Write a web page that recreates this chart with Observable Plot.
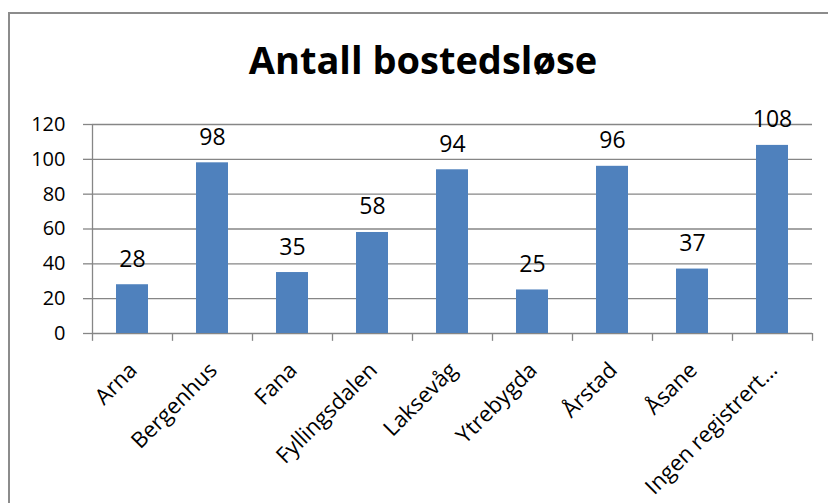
<!DOCTYPE html>
<html>
<head>
<meta charset="utf-8">
<script src="https://cdn.jsdelivr.net/npm/d3@7"></script>
<script src="https://cdn.jsdelivr.net/npm/@observablehq/plot@0.6"></script>
<style>
  html, body { margin: 0; padding: 0; background: #fff; overflow: hidden; }
  #wrap { position: relative; width: 828px; height: 503px; overflow: hidden; font-family: "Open Sans", sans-serif; }
  #border { position: absolute; left: 8px; top: 12px; width: 900px; height: 700px; border: 2px solid #8c8c8c; box-sizing: border-box; }
  #chart { position: absolute; left: 0; top: 0; }
  #title { position: absolute; left: 223px; top: 40px; width: 400px; text-align: center; font: bold 38px/38px "Open Sans", sans-serif; color: #000; white-space: nowrap; }
</style>
</head>
<body>
<div id="wrap">
  <div id="border"></div>
  <div id="chart"></div>
  <div id="title">Antall bostedsløse</div>
</div>
<script>
const categories = ["Arna", "Bergenhus", "Fana", "Fyllingsdalen", "Laksevåg", "Ytrebygda", "Årstad", "Åsane", "Ingen registrert…"];
const values = [28, 98, 35, 58, 94, 25, 96, 37, 108];
const yTicks = [0, 20, 40, 60, 80, 100, 120];

const data = categories.map((c, i) => ({category: c, value: values[i]}));
const gridColor = "#868686";

const chart = Plot.plot({
  width: 828,
  height: 503,
  marginLeft: 92,
  marginRight: 16,
  marginTop: 124,
  marginBottom: 170,
  style: {fontFamily: "Open Sans, sans-serif", color: "#000", background: "transparent"},
  x: {domain: categories, paddingInner: 0.6, paddingOuter: 0.3, label: null, axis: null},
  y: {domain: [0, 120], label: null, axis: null},
  marks: [
    Plot.ruleY(yTicks, {stroke: gridColor, strokeWidth: 1.3}),
    Plot.ruleY(yTicks, {y: d => d, stroke: gridColor, strokeWidth: 1.3, dx: -9, insetRight: 711}),
    Plot.text(yTicks, {y: d => d, text: d => String(d), frameAnchor: "left", textAnchor: "end", dx: -27, fontSize: 20, fill: "#000"}),
    Plot.ruleX([categories[0]], {x: d => d, dx: -40, y1: 0, y2: 120, stroke: gridColor, strokeWidth: 1.3}),
    Plot.ruleX(categories, {x: d => d, dx: -40, y1: -4.5, y2: 0, stroke: gridColor, strokeWidth: 1.3}),
    Plot.ruleX([categories[categories.length - 1]], {x: d => d, dx: 40, y1: -4.5, y2: 0, stroke: gridColor, strokeWidth: 1.3}),
    Plot.barY(data, {x: "category", y: "value", fill: "#4F81BD"}),
    Plot.text(data, {x: "category", y: "value", text: d => String(d.value), lineAnchor: "bottom", dy: -18, fontSize: 23, fill: "#000"}),
    Plot.text(categories, {x: d => d, text: d => d, frameAnchor: "bottom", rotate: -45, textAnchor: "end", lineAnchor: "bottom", dx: 6, dy: 38, fontSize: 22, fill: "#000"})
  ]
});
document.getElementById("chart").appendChild(chart);
</script>
</body>
</html>
